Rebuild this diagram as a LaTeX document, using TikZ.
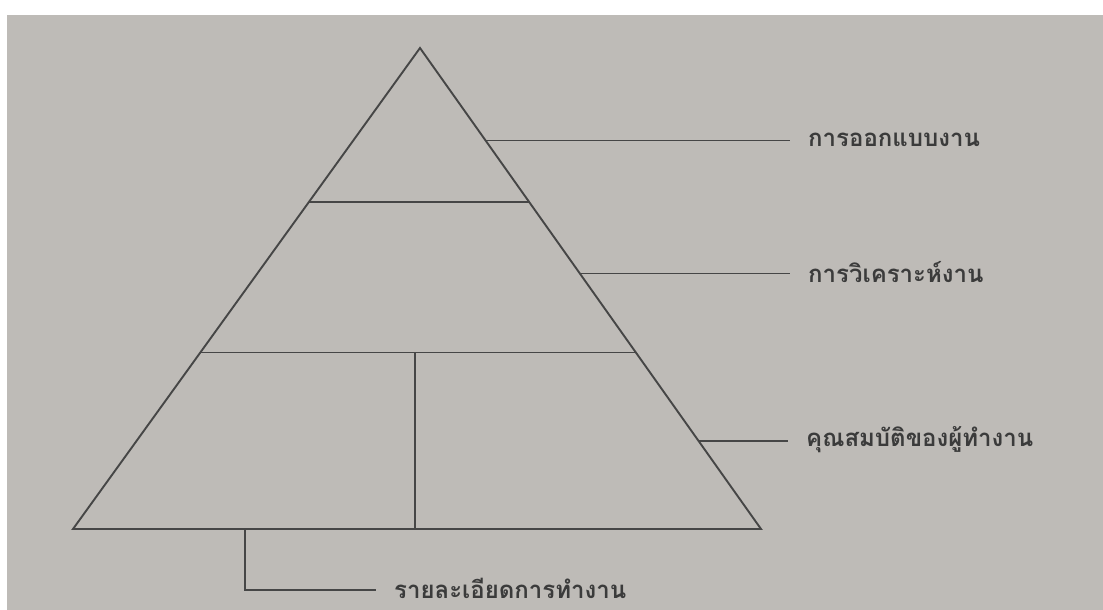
\documentclass[tikz,border=0pt]{standalone}
\usepackage{fontspec}
\newfontfamily\thaifont[Script=Thai]{Loma}
\usetikzlibrary{calc}
\definecolor{paper}{RGB}{190,187,183}
\definecolor{ink}{RGB}{70,70,70}

\begin{document}
\begin{tikzpicture}[x=1pt, y=-1pt,
  edge/.style={draw=ink, line width=1.9pt, line join=miter},
  lead/.style={draw=ink, line width=1.7pt, shorten >=16pt},
  lbl/.style={anchor=west, inner sep=2pt, text=ink!85!black,
              font=\thaifont\bfseries\fontsize{24}{28}\selectfont}
]
%% page and photo area
\useasboundingbox (0,0) rectangle (1103,610);
\fill[white] (0,0) rectangle (1103,610);
\fill[paper] (7,15) rectangle (1103,610);

%% pyramid corners
\coordinate (top) at (420,48);
\coordinate (bl)  at (73,529);
\coordinate (br)  at (761,529);
\draw[edge] (top) -- (bl) -- (br) -- cycle;

%% levels
\coordinate (l1a) at ($(top)!0.321!(bl)$);
\coordinate (l1b) at ($(top)!0.321!(br)$);
\coordinate (l2a) at ($(top)!0.633!(bl)$);
\coordinate (l2b) at ($(top)!0.633!(br)$);
\draw[edge] (l1a) -- (l1b);
\draw[edge] (l2a) -- (l2b);
\coordinate (mid) at ($(l2a)!0.493!(l2b)$);
\coordinate (midb) at (mid |- bl);
\draw[edge] (mid) -- (midb);

%% labels on the right
\node[lbl] (design) at (806,140) {การออกแบบงาน};
\node[lbl] (analyse) at (806,272) {การวิเคราะห์งาน};
\node[lbl] (quali) at (804,440) {คุณสมบัติของผู้ทำงาน};
\node[lbl] (detail) at (392,588) {รายละเอียดการทำงาน};

%% leaders
\coordinate (p1) at ($(top)!0.192!(br)$);
\coordinate (p2) at ($(top)!0.469!(br)$);
\coordinate (p3) at ($(top)!0.817!(br)$);
\draw[lead] (p1) -- (p1 -| design.west);
\draw[lead] (p2) -- (p2 -| analyse.west);
\draw[lead] (p3) -- (p3 -| quali.west);

%% bottom leader
\coordinate (p4) at (245,529);
\coordinate (p4b) at (245,590);
\draw[lead] (p4) -- (p4b) -- (p4b -| detail.west);
\end{tikzpicture}
\end{document}
